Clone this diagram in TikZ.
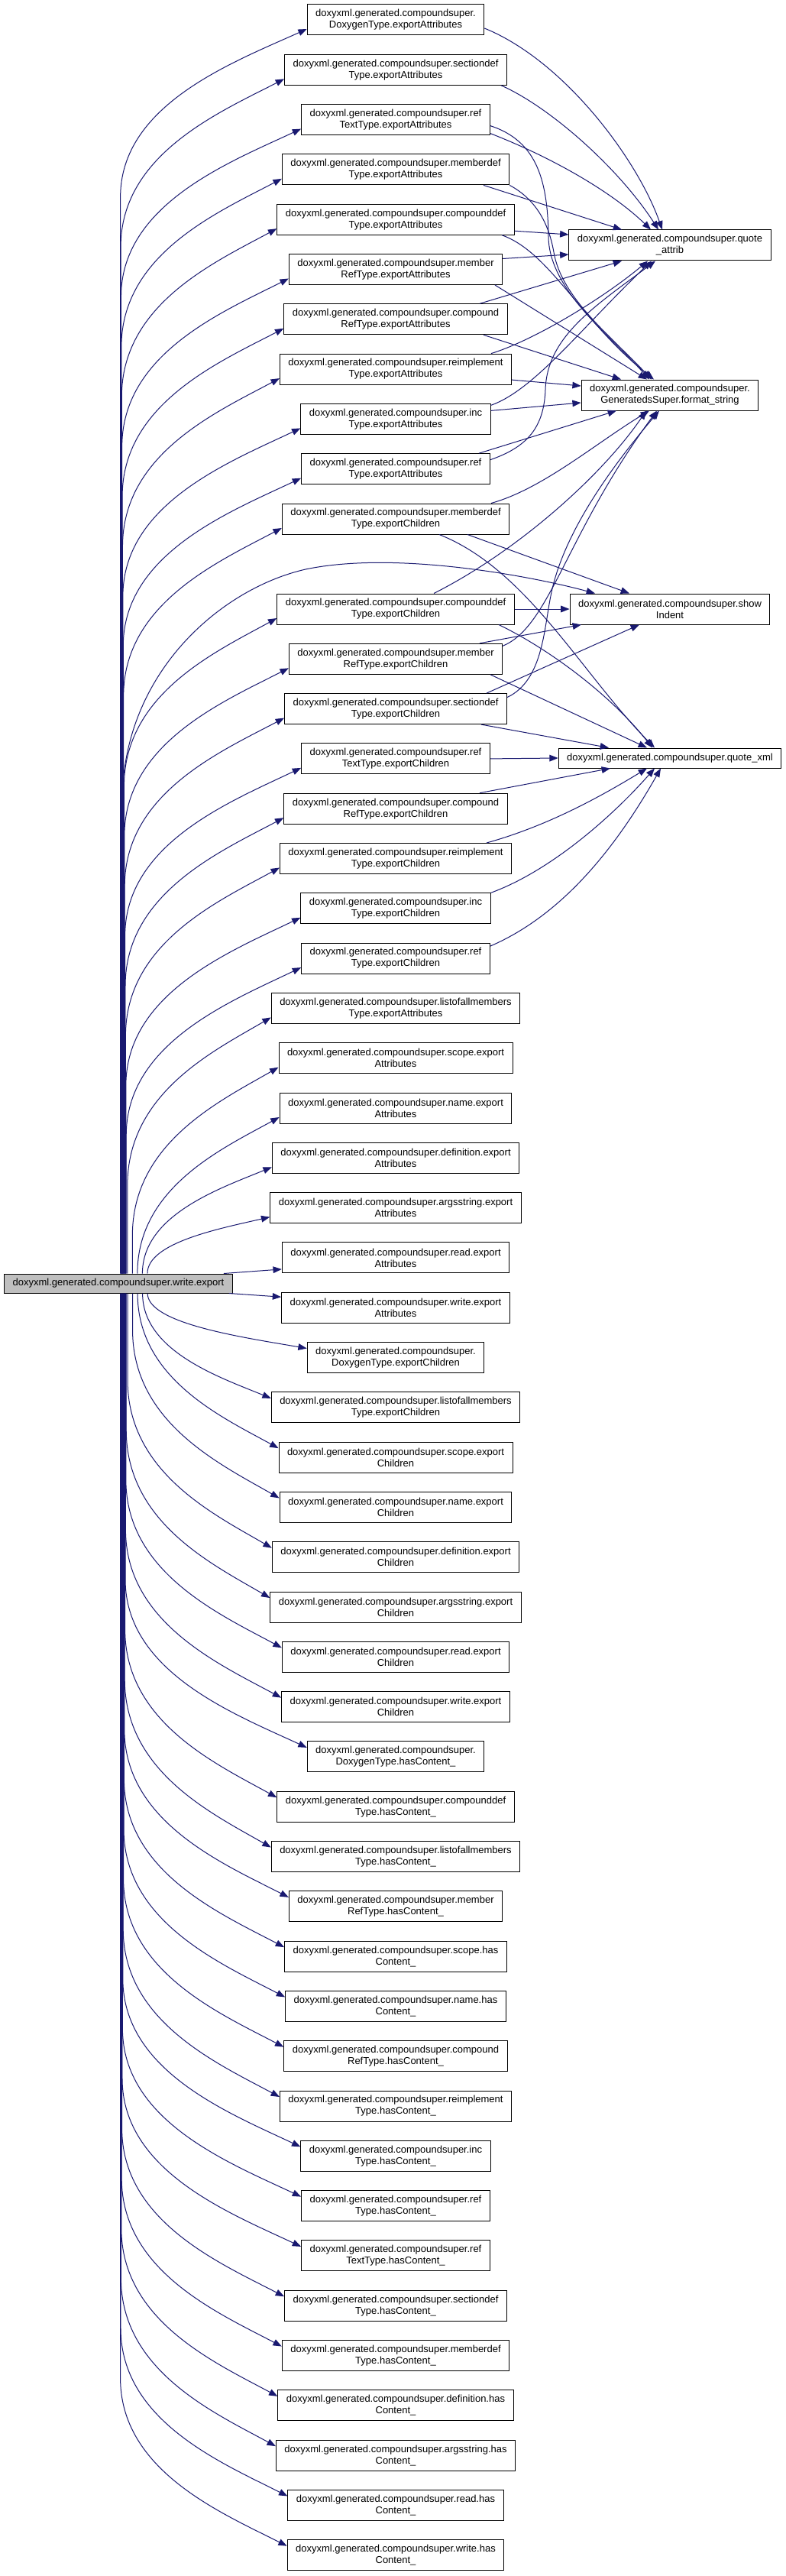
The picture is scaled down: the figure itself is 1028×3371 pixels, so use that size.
\documentclass[tikz,border=0pt]{standalone}
\usepackage{fontspec}
\setmainfont{Liberation Sans}
\usetikzlibrary{arrows.meta,calc}
\definecolor{edgec}{HTML}{191970}
\definecolor{rootfill}{HTML}{BFBFBF}
\newcommand\DXP{doxyxml.generated.compoundsuper.}
\newcommand\mnode[2]{%
  \pgfmathsetmacro\mny{#1<12 ? 26+65.3*(#1-1) : 797+65.3*(#1-12)}%
  \node[box] (n#1) at (518,\mny) {#2};}
\begin{document}
\begin{tikzpicture}[x=0.75pt,y=-0.75pt,
  box/.style={draw=black,line width=0.75pt,fill=white,align=center,
    inner xsep=8.25pt,inner ysep=1.5pt,minimum height=30pt,
    font=\fontsize{9.75pt}{11.25pt}\selectfont},
  edge/.style={draw=edgec,line width=0.75pt,-{Triangle[length=8.5pt,width=6.5pt]}}]
\fill[white] (0,0) rectangle (1028,3371);
\useasboundingbox (0,0) rectangle (1028,3371);

% root
\node[box,fill=rootfill,minimum height=18.75pt,inner ysep=1pt] (root) at (155,1679.5) {\DXP write.export};

% middle column
\mnode{1}{\DXP\\DoxygenType.exportAttributes}
\mnode{2}{\DXP sectiondef\\Type.exportAttributes}
\mnode{3}{\DXP ref\\TextType.exportAttributes}
\mnode{4}{\DXP memberdef\\Type.exportAttributes}
\mnode{5}{\DXP compounddef\\Type.exportAttributes}
\mnode{6}{\DXP member\\RefType.exportAttributes}
\mnode{7}{\DXP compound\\RefType.exportAttributes}
\mnode{8}{\DXP reimplement\\Type.exportAttributes}
\mnode{9}{\DXP inc\\Type.exportAttributes}
\mnode{10}{\DXP ref\\Type.exportAttributes}
\mnode{11}{\DXP memberdef\\Type.exportChildren}
\mnode{12}{\DXP compounddef\\Type.exportChildren}
\mnode{13}{\DXP member\\RefType.exportChildren}
\mnode{14}{\DXP sectiondef\\Type.exportChildren}
\mnode{15}{\DXP ref\\TextType.exportChildren}
\mnode{16}{\DXP compound\\RefType.exportChildren}
\mnode{17}{\DXP reimplement\\Type.exportChildren}
\mnode{18}{\DXP inc\\Type.exportChildren}
\mnode{19}{\DXP ref\\Type.exportChildren}
\mnode{20}{\DXP listofallmembers\\Type.exportAttributes}
\mnode{21}{\DXP scope.export\\Attributes}
\mnode{22}{\DXP name.export\\Attributes}
\mnode{23}{\DXP definition.export\\Attributes}
\mnode{24}{\DXP argsstring.export\\Attributes}
\mnode{25}{\DXP read.export\\Attributes}
\mnode{26}{\DXP write.export\\Attributes}
\mnode{27}{\DXP\\DoxygenType.exportChildren}
\mnode{28}{\DXP listofallmembers\\Type.exportChildren}
\mnode{29}{\DXP scope.export\\Children}
\mnode{30}{\DXP name.export\\Children}
\mnode{31}{\DXP definition.export\\Children}
\mnode{32}{\DXP argsstring.export\\Children}
\mnode{33}{\DXP read.export\\Children}
\mnode{34}{\DXP write.export\\Children}
\mnode{35}{\DXP\\DoxygenType.hasContent\_}
\mnode{36}{\DXP compounddef\\Type.hasContent\_}
\mnode{37}{\DXP listofallmembers\\Type.hasContent\_}
\mnode{38}{\DXP member\\RefType.hasContent\_}
\mnode{39}{\DXP scope.has\\Content\_}
\mnode{40}{\DXP name.has\\Content\_}
\mnode{41}{\DXP compound\\RefType.hasContent\_}
\mnode{42}{\DXP reimplement\\Type.hasContent\_}
\mnode{43}{\DXP inc\\Type.hasContent\_}
\mnode{44}{\DXP ref\\Type.hasContent\_}
\mnode{45}{\DXP ref\\TextType.hasContent\_}
\mnode{46}{\DXP sectiondef\\Type.hasContent\_}
\mnode{47}{\DXP memberdef\\Type.hasContent\_}
\mnode{48}{\DXP definition.has\\Content\_}
\mnode{49}{\DXP argsstring.has\\Content\_}
\mnode{50}{\DXP read.has\\Content\_}
\mnode{51}{\DXP write.has\\Content\_}

% right column
\node[box] (qa) at (877,321) {\DXP quote\\\_attrib};
\node[box] (fs) at (877,517) {\DXP\\GeneratedsSuper.format\_string};
\node[box] (si) at (877,797) {\DXP show\\Indent};
\node[box,minimum height=19.5pt] (qx) at (877,992) {\DXP quote\_xml};

% root -> upper nodes
\foreach \i in {1,...,24}{
  \draw[edge] let \p2=(root.north), \p1=($(n\i.west)+(0,12)$),
    \n1={\y1-\y2},
    \n2={max(1.5pt+8pt*(1-\n1/1300), 34pt-0.1*\n1)},
    \n3={min(165pt,\n1)},
    \n4={\x1-\x2-\n2} in
    (\x2+\n2,\y2) -- (\x2+\n2,\y1-\n3)
    .. controls (\x2+\n2,\y1-0.45*\n3) and (\x1-0.4*\n4,\y1-0.2*\n3) .. (\p1);
}
% root -> lower nodes
\foreach \i in {27,...,51}{
  \draw[edge] let \p2=(root.south), \p1=($(n\i.west)+(0,-12)$),
    \n1={\y2-\y1},
    \n2={max(1.5pt+8pt*(1-\n1/1300), 34pt-0.1*\n1)},
    \n3={min(165pt,\n1)},
    \n4={\x1-\x2-\n2} in
    (\x2+\n2,\y2) -- (\x2+\n2,\y1+\n3)
    .. controls (\x2+\n2,\y1+0.45*\n3) and (\x1-0.4*\n4,\y1+0.2*\n3) .. (\p1);
}
\draw[edge] ($(root.north east)+(-12,0)$) -- ($(n25.west)+(0,15)$);
\draw[edge] ($(root.south east)+(-5,0)$) -- ($(n26.west)+(0,-14)$);
% root -> showIndent
\draw[edge] ($(root.north)+(5,0)$) -- (160,1050) .. controls (160,880) and (290,770) .. (400,745)
  .. controls (520,720) and (700,755) .. ($(si.north)+(-98,0)$);

% middle -> quote_attrib / format_string
\draw[edge] ($(n1.east)+(0,11)$) .. controls (740,80) and (835,210) .. ($(qa.north)+(-10,0)$);
\draw[edge] ($(n2.south)+(138,0)$) .. controls (720,140) and (810,220) .. ($(qa.north)+(-15,0)$);
\draw[edge] ($(n3.east)+(0,18)$) .. controls (720,205) and (800,250) .. ($(qa.north)+(-25,0)$);
\draw[edge] ($(n3.east)+(0,8)$) .. controls (705,185) and (717,240) .. (718,310)
  .. controls (719,380) and (800,440) .. ($(fs.north)+(-27,0)$);
\draw[edge] ($(n4.south)+(115,0)$) -- ($(qa.north)+(-63,0)$);
\draw[edge] (n4.south east) .. controls (700,260) and (718,290) .. (725,330)
  .. controls (735,390) and (800,440) .. ($(fs.north)+(-24,0)$);
\draw[edge] ($(n5.east)+(0,15)$) -- ($(qa.west)+(0,-14)$);
\draw[edge] ($(n5.south)+(139,0)$) .. controls (720,330) and (760,420) .. ($(fs.north)+(-21,0)$);
\draw[edge] ($(n6.east)+(0,-14)$) -- ($(qa.west)+(0,12)$);
\draw[edge] ($(n6.south)+(130,0)$) -- ($(fs.north)+(-30,0)$);
\draw[edge] ($(n7.north)+(110,0)$) -- ($(qa.south)+(-63,0)$);
\draw[edge] ($(n7.south)+(115,0)$) -- ($(fs.north)+(-64,0)$);
\draw[edge] ($(n8.north)+(125,0)$) .. controls (700,445) and (790,390) .. ($(qa.south)+(-29,0)$);
\draw[edge] ($(n8.east)+(0,14)$) -- ($(fs.west)+(0,-12)$);
\draw[edge] ($(n9.east)+(0,-18)$) .. controls (700,510) and (760,430) .. ($(qa.south)+(-24,0)$);
\draw[edge] ($(n9.east)+(0,-11)$) -- ($(fs.west)+(0,10)$);
\draw[edge] ($(n10.north)+(109,0)$) -- ($(fs.south)+(-70,0)$);
\draw[edge] ($(n10.east)+(0,-12)$) .. controls (690,585) and (712,560) .. (714,510)
  .. controls (716,440) and (780,400) .. ($(qa.south)+(-19,0)$);

% exportChildren -> format_string / showIndent / quote_xml
\draw[edge] ($(n11.north)+(125,0)$) .. controls (710,640) and (780,580) .. ($(fs.south)+(-27,0)$);
\draw[edge] ($(n11.south)+(94,0)$) -- ($(si.north)+(-53,0)$);
\draw[edge] ($(n11.south)+(57,0)$) .. controls (690,745) and (760,880) .. ($(qx.north)+(-20,0)$);
\draw[edge] ($(n12.north)+(50,0)$) .. controls (680,720) and (790,620) .. ($(fs.south)+(-31,0)$);
\draw[edge] (n12.east) -- (si.west);
\draw[edge] ($(n12.south)+(135,0)$) .. controls (720,850) and (800,910) .. ($(qx.north)+(-23,0)$);
\draw[edge] ($(n13.north)+(110,0)$) -- ($(si.south)+(-116,0)$);
\draw[edge] ($(n13.east)+(0,-17)$) .. controls (720,820) and (740,700) .. ($(fs.south)+(-17,0)$);
\draw[edge] ($(n13.south)+(124,0)$) -- ($(qx.north)+(-30,0)$);
\draw[edge] ($(n14.north)+(119,0)$) -- ($(si.south)+(-40,0)$);
\draw[edge] ($(n14.east)+(0,-15)$) .. controls (712,890) and (712,820) .. (722,775)
  .. controls (740,690) and (810,600) .. ($(fs.south)+(-14,0)$);
\draw[edge] ($(n14.south)+(112,0)$) -- ($(qx.north)+(-80,0)$);
\draw[edge] (n15.east) -- (qx.west);
\draw[edge] ($(n16.north)+(110,0)$) -- ($(qx.south)+(-78,0)$);
\draw[edge] ($(n17.north)+(119,0)$) .. controls (720,1080) and (790,1040) .. ($(qx.south)+(-30,0)$);
\draw[edge] (n18.north east) .. controls (720,1140) and (800,1070) .. ($(qx.south)+(-20,0)$);
\draw[edge] ($(n19.east)+(0,-16)$) .. controls (730,1200) and (800,1120) .. ($(qx.south)+(-12,0)$);
\end{tikzpicture}
\end{document}
